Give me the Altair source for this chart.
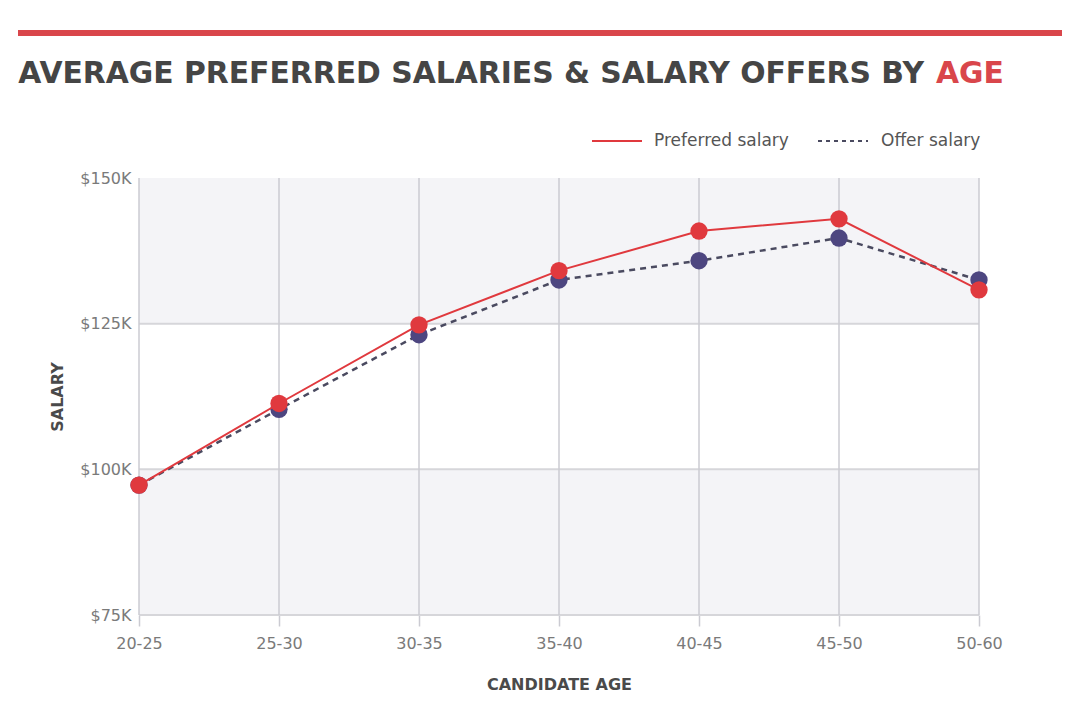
import altair as alt
import pandas as pd

ages = ["20-25", "25-30", "30-35", "35-40", "40-45", "45-50", "50-60"]
preferred = [97.3, 111.3, 124.8, 134.1, 140.9, 143.0, 130.8]
offer = [97.3, 110.3, 123.1, 132.5, 135.8, 139.7, 132.5]
y_ticks = [75, 100, 125, 150]
grid_y = [75, 100, 125]
band_lo = [75, 125]
band_hi = [100, 150]

W, H = 840, 437
RED = "#e0393e"
PURPLE = "#4d4680"
DASH = "#4a4a60"
FONT = "DejaVu Sans"

pref_df = pd.DataFrame({"age": ages, "salary": preferred})
offer_df = pd.DataFrame({"age": ages, "salary": offer})
band_df = pd.DataFrame({"lo": band_lo, "hi": band_hi})
age_df = pd.DataFrame({"age": ages})
grid_df = pd.DataFrame({"v": grid_y})

xscale = alt.Scale(type="point", padding=0, domain=ages)
yscale = alt.Scale(domain=[75, 150], nice=False, zero=False)

xenc = alt.X("age:N", scale=xscale, sort=ages,
             axis=alt.Axis(title="CANDIDATE AGE", labelAngle=0, grid=False,
                           domain=False, ticks=True, tickColor="#cbcbd2",
                           tickSize=11, tickWidth=1.5,
                           labelFont=FONT, labelFontSize=16, labelColor="#7a7a7a",
                           labelPadding=9, titleFont=FONT, titleFontSize=16,
                           titleFontWeight=600, titleColor="#4a4a4a", titlePadding=25))
yenc = alt.Y("salary:Q", scale=yscale,
             axis=alt.Axis(title="SALARY", values=y_ticks, grid=False,
                           domain=False, ticks=False,
                           labelExpr="'$' + datum.value + 'K'",
                           labelFont=FONT, labelFontSize=16, labelColor="#7a7a7a",
                           labelPadding=8, titleFont=FONT, titleFontSize=16,
                           titleFontWeight=600, titleColor="#4a4a4a", titlePadding=14))

bands = alt.Chart(band_df).mark_rect(color="#f4f4f7").encode(
    y=alt.Y("lo:Q", scale=yscale), y2="hi:Q",
    x=alt.value(0), x2=alt.value(W))

hgrid = alt.Chart(grid_df).mark_rule(color="#d6d6da", strokeWidth=2).encode(
    y=alt.Y("v:Q", scale=yscale), x=alt.value(0), x2=alt.value(W))
vgrid = alt.Chart(age_df).mark_rule(color="#cbcbd2", strokeWidth=1.5).encode(
    x=alt.X("age:N", scale=xscale, sort=ages), y=alt.value(0), y2=alt.value(H))

base_axes = alt.Chart(pref_df).mark_point(opacity=0).encode(x=xenc, y=yenc)

offer_line = alt.Chart(offer_df).mark_line(color=DASH, strokeWidth=2.5, strokeDash=[6, 5]).encode(
    x=alt.X("age:N", scale=xscale, sort=ages), y=alt.Y("salary:Q", scale=yscale))
offer_pts = alt.Chart(offer_df).mark_circle(color=PURPLE, opacity=1, size=300).encode(
    x=alt.X("age:N", scale=xscale, sort=ages), y=alt.Y("salary:Q", scale=yscale))
pref_line = alt.Chart(pref_df).mark_line(color=RED, strokeWidth=2).encode(
    x=alt.X("age:N", scale=xscale, sort=ages), y=alt.Y("salary:Q", scale=yscale))
pref_pts = alt.Chart(pref_df).mark_circle(color=RED, opacity=1, size=300).encode(
    x=alt.X("age:N", scale=xscale, sort=ages), y=alt.Y("salary:Q", scale=yscale))

# decorations (title, top rule, legend)
top_rule = alt.Chart(age_df).mark_rule(color="#d9464b", strokeWidth=5).encode(
    x=alt.value(-121), x2=alt.value(923), y=alt.value(-145))
title_dark = alt.Chart(pd.DataFrame({"t": ["AVERAGE PREFERRED SALARIES & SALARY OFFERS BY"]})).mark_text(
    align="right", baseline="alphabetic", font=FONT, fontSize=29.8, fontWeight="bold",
    color="#454545").encode(text="t:N", x=alt.value(785), y=alt.value(-95))
title_red = alt.Chart(pd.DataFrame({"t": ["AGE"]})).mark_text(
    align="left", baseline="alphabetic", font=FONT, fontSize=29.8, fontWeight="bold",
    color="#d9464b").encode(text="t:N", x=alt.value(797), y=alt.value(-95))

leg_red = alt.Chart(age_df).mark_rule(color=RED, strokeWidth=2).encode(
    x=alt.value(453), x2=alt.value(503), y=alt.value(-37))
leg_dash = alt.Chart(age_df).mark_rule(color=DASH, strokeWidth=2, strokeDash=[4, 4]).encode(
    x=alt.value(679), x2=alt.value(729), y=alt.value(-37))
leg_t1 = alt.Chart(pd.DataFrame({"t": ["Preferred salary"]})).mark_text(
    align="left", baseline="middle", font=FONT, fontSize=17, color="#555555").encode(
    text="t:N", x=alt.value(515), y=alt.value(-37))
leg_t2 = alt.Chart(pd.DataFrame({"t": ["Offer salary"]})).mark_text(
    align="left", baseline="middle", font=FONT, fontSize=17, color="#555555").encode(
    text="t:N", x=alt.value(742), y=alt.value(-37))

chart = alt.layer(
    base_axes, bands, hgrid, vgrid, offer_line, offer_pts, pref_line, pref_pts,
    top_rule, title_dark, title_red, leg_red, leg_dash, leg_t1, leg_t2
).properties(
    width=W, height=H,
    autosize=alt.AutoSizeParams(type="none"),
    padding={"left": 131, "top": 170, "right": 85, "bottom": 90},
    background="#ffffff"
).configure_view(stroke=None)

chart.save("out.html", embed_options={"renderer": "svg", "actions": False})
